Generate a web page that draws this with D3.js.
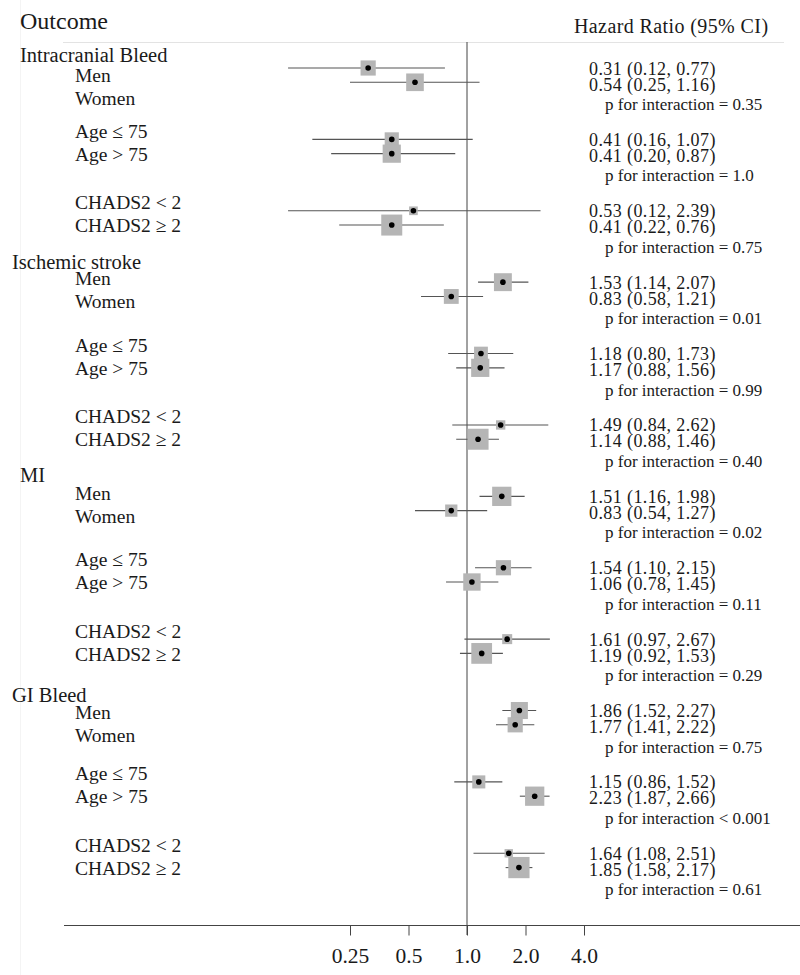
<!DOCTYPE html>
<html>
<head>
<meta charset="utf-8">
<script src="https://cdn.jsdelivr.net/npm/d3@7"></script>
<style>
  html, body { margin: 0; padding: 0; background: #fff; }
  svg { display: block; }
  text { font-family: "Liberation Serif", "Times New Roman", serif; fill: #1a1a1a; }
</style>
</head>
<body>
<svg id="chart" width="800" height="975"></svg>
<script>
// ---------- data ----------
const outcomes = ["Intracranial Bleed", "Ischemic stroke", "MI", "GI Bleed"];
const subgroupPairs = [
  ["Men", "Women"],
  ["Age \u2264 75", "Age > 75"],
  ["CHADS2 < 2", "CHADS2 \u2265 2"]
];
// 24 estimates: outcome x (sex, age, chads2) x (first, second)
const hr = [0.31, 0.54, 0.41, 0.41, 0.53, 0.41,
            1.53, 0.83, 1.18, 1.17, 1.49, 1.14,
            1.51, 0.83, 1.54, 1.06, 1.61, 1.19,
            1.86, 1.77, 1.15, 2.23, 1.64, 1.85];
const lower = [0.12, 0.25, 0.16, 0.20, 0.12, 0.22,
               1.14, 0.58, 0.80, 0.88, 0.84, 0.88,
               1.16, 0.54, 1.10, 0.78, 0.97, 0.92,
               1.52, 1.41, 0.86, 1.87, 1.08, 1.58];
const upper = [0.77, 1.16, 1.07, 0.87, 2.39, 0.76,
               2.07, 1.21, 1.73, 1.56, 2.62, 1.46,
               1.98, 1.27, 2.15, 1.45, 2.67, 1.53,
               2.27, 2.22, 1.52, 2.66, 2.51, 2.17];
// relative weights (box area)
const weights = [2.3, 3.1, 2.0, 3.3, 0.75, 4.4,
                 3.2, 2.2, 1.9, 3.3, 0.87, 4.4,
                 3.7, 1.5, 2.3, 3.0, 1.0, 4.3,
                 2.9, 2.3, 1.7, 3.7, 0.7, 4.5];
const pInteraction = ["= 0.35", "= 1.0", "= 0.75",
                      "= 0.01", "= 0.99", "= 0.40",
                      "= 0.02", "= 0.11", "= 0.29",
                      "= 0.75", "< 0.001", "= 0.61"];
const tickValues = [0.25, 0.5, 1, 2, 4];
const tickLabels = ["0.25", "0.5", "1.0", "2.0", "4.0"];

// ---------- layout ----------
const svg = d3.select("#chart");
const x = d3.scaleLog().domain([0.25, 4]).range([350, 584]);
const y = d3.scaleLinear().domain([0, 55]).range([68, 853.3]); // row index scale
const box = d3.scaleSqrt().domain([0, 4.4]).range([0, 21]);
const fmt = d3.format(".2f");

const rows = hr.map((v, i) => {
  const g = Math.floor(i / 2), k = i % 2;
  return { hr: v, lo: lower[i], hi: upper[i], w: weights[i], g, k, idx: g * 5 + k };
});

// faint left rule and header rule
svg.append("line").attr("x1", 20.5).attr("x2", 20.5).attr("y1", 0).attr("y2", 975)
  .attr("stroke", "#f4f4f4").attr("stroke-width", 1);
svg.append("line").attr("x1", 63).attr("x2", 784).attr("y1", 42.5).attr("y2", 42.5)
  .attr("stroke", "#e3e3e3").attr("stroke-width", 1);

// headers
svg.append("text").attr("x", 20).attr("y", 29).attr("font-size", 24).text("Outcome");
svg.append("text").attr("x", 574).attr("y", 33).attr("font-size", 20)
  .attr("letter-spacing", 0.4).text("Hazard Ratio (95% CI)");

// reference line at 1
svg.append("line").attr("x1", x(1)).attr("x2", x(1)).attr("y1", 42).attr("y2", 935)
  .attr("stroke", "#444").attr("stroke-width", 1);

// axis
const axisY = 925;
svg.append("line").attr("x1", 64).attr("x2", 800).attr("y1", axisY + 0.5).attr("y2", axisY + 0.5)
  .attr("stroke", "#444").attr("stroke-width", 1);
const axis = d3.axisBottom(x).tickValues(tickValues)
  .tickFormat((d, i) => tickLabels[i]).tickSize(10).tickPadding(12.5);
const ag = svg.append("g").attr("transform", `translate(0,${axisY + 0.5})`).call(axis);
ag.select(".domain").remove();
ag.selectAll(".tick line").attr("stroke", "#444");
ag.selectAll(".tick text").attr("font-family", "Liberation Serif, serif")
  .attr("font-size", 21.5).attr("fill", "#1a1a1a");

// CI lines
svg.append("g").selectAll("line").data(rows).join("line")
  .attr("x1", d => x(d.lo)).attr("x2", d => x(d.hi))
  .attr("y1", d => y(d.idx)).attr("y2", d => y(d.idx))
  .attr("stroke", "#555").attr("stroke-width", 1.1);

// boxes
svg.append("g").selectAll("rect").data(rows).join("rect")
  .attr("x", d => x(d.hr) - box(d.w) / 2)
  .attr("y", d => y(d.idx) - box(d.w) / 2)
  .attr("width", d => box(d.w)).attr("height", d => box(d.w))
  .attr("fill", "#b5b5b5");

// dots
svg.append("g").selectAll("circle").data(rows).join("circle")
  .attr("cx", d => x(d.hr)).attr("cy", d => y(d.idx)).attr("r", 2.8)
  .attr("fill", "#000");

// outcome headers
const headerOffset = [-13, -20, -21, -16];
const headerX = [20, 12, 20, 12];
outcomes.forEach((o, oi) => {
  const y1 = y(oi * 15);
  svg.append("text").attr("x", headerX[oi]).attr("y", y1 + headerOffset[oi] + 7)
    .attr("font-size", 20.5).text(o);
});

// subgroup labels
const sexOffset = [7, -4, -3, 2];
for (let g = 0; g < 12; g++) {
  const oi = Math.floor(g / 3), s = g % 3;
  const y1 = y(g * 5);
  const c1 = s === 0 ? y1 + sexOffset[oi] : y1 - 8;
  subgroupPairs[s].forEach((lab, k) => {
    svg.append("text").attr("x", 75).attr("y", c1 + k * 23 + 6.5)
      .attr("font-size", 19.5).text(lab);
  });
}

// HR texts
svg.append("g").selectAll("text").data(rows).join("text")
  .attr("x", 589).attr("y", d => y(d.g * 5) + d.k * 16 + 6.5)
  .attr("font-size", 18).attr("letter-spacing", 0.4)
  .text(d => `${fmt(d.hr)} (${fmt(d.lo)}, ${fmt(d.hi)})`);

// p for interaction
svg.append("g").selectAll("text").data(pInteraction).join("text")
  .attr("x", 605).attr("y", (d, g) => y(g * 5) + 36 + 6)
  .attr("font-size", 17)
  .text(d => `p for interaction ${d}`);
</script>
</body>
</html>
